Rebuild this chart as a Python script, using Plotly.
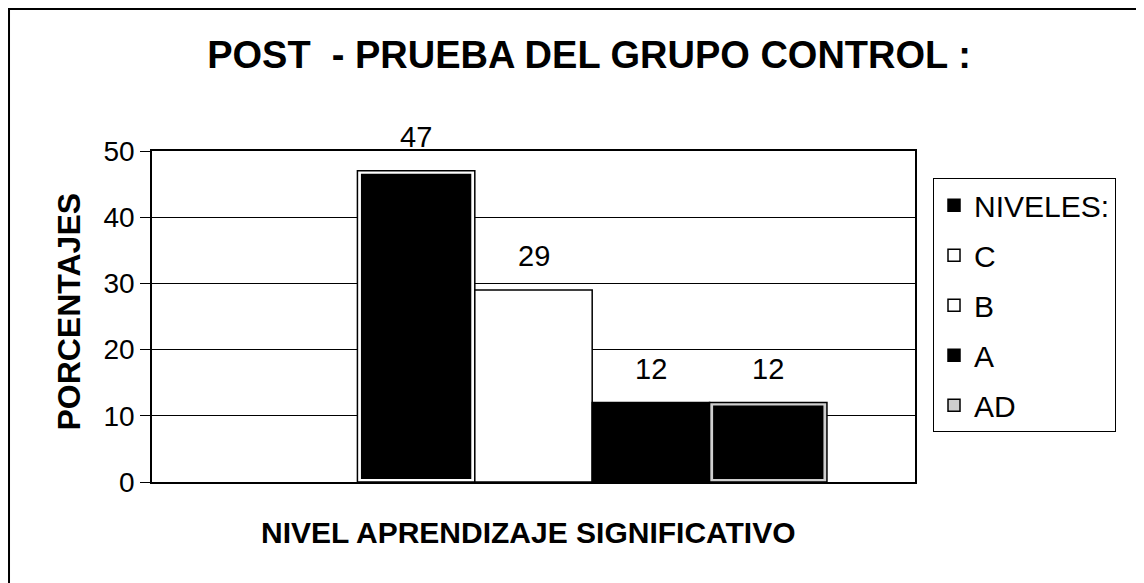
import plotly.graph_objects as go

# ---- data ----
series_names = ["NIVELES:", "C", "B", "A", "AD"]
values = [None, 47, 29, 12, 12]
label_text = ["", "47", "29", "12", "12"]
y_ticks = [0, 10, 20, 30, 40, 50]

title_text = "POST  - PRUEBA DEL GRUPO CONTROL :"
x_title = "NIVEL APRENDIZAJE SIGNIFICATIVO"
y_title = "PORCENTAJES"

FONT = "Liberation Sans, Arial, sans-serif"

# style per series: (outer fill, outer line, inner fill or None)
styles = {
    "NIVELES:": ("black", "black", None),
    "C": ("white", "black", "black"),
    "B": ("white", "black", None),
    "A": ("black", "black", None),
    "AD": ("#cfcfcf", "black", "black"),
}

fig = go.Figure()
xs = list(range(len(series_names)))
for i, (name, v) in enumerate(zip(series_names, values)):
    outer_fill, outer_line, inner_fill = styles[name]
    fig.add_trace(go.Bar(
        x=[xs[i]], y=[v], name=name, width=1.0,
        marker=dict(color=outer_fill, line=dict(color=outer_line, width=1.5)),
        legendgroup=name, showlegend=True, hoverinfo="skip",
    ))
    if inner_fill is not None and v is not None:
        pad = 0.45
        fig.add_trace(go.Bar(
            x=[xs[i]], y=[v - 2 * pad], base=[pad], width=0.94,
            marker=dict(color=inner_fill, line=dict(width=0)),
            legendgroup=name, showlegend=False, hoverinfo="skip",
        ))

for i, v in enumerate(values):
    if v is None:
        continue
    fig.add_annotation(x=xs[i], y=v, text=label_text[i], showarrow=False,
                       yanchor="middle", yshift=34,
                       font=dict(family=FONT, size=29, color="black"))

fig.add_annotation(x=0.494, y=-0.154, xref="paper", yref="paper", text=f"<b>{x_title}</b>",
                   showarrow=False, yanchor="middle", xanchor="center",
                   font=dict(family=FONT, size=30, color="black"))
fig.add_annotation(x=-0.110, y=0.515, xref="paper", yref="paper", text=f"<b>{y_title}</b>",
                   showarrow=False, textangle=-90, yanchor="middle", xanchor="center",
                   font=dict(family=FONT, size=32, color="black"))

# outer frame
fig.add_shape(type="rect", xref="paper", yref="paper",
              x0=-0.1874, x1=1.296, y0=-0.33, y1=1.429,
              line=dict(color="black", width=2), fillcolor="rgba(0,0,0,0)", layer="below")

fig.update_layout(
    width=1136, height=575,
    margin=dict(l=144, r=229, t=143, b=101),
    paper_bgcolor="white", plot_bgcolor="white",
    barmode="overlay",
    title=dict(text=f"<b>{title_text}</b>", x=581 / 1136, xanchor="center",
               y=1 - 47 / 575, yanchor="middle", xref="container", yref="container",
               font=dict(family=FONT, size=38, color="black")),
    font=dict(family=FONT, size=29, color="black"),
    showlegend=True,
    legend=dict(x=1.0236, y=0.918, xanchor="left", yanchor="top",
                bordercolor="black", borderwidth=1, bgcolor="white",
                font=dict(family=FONT, size=30, color="black"),
                tracegroupgap=8, traceorder="grouped",
                itemclick=False, itemdoubleclick=False),
)
fig.update_xaxes(range=[-1.25, 5.25], showticklabels=False, ticks="",
                 showgrid=False, zeroline=False, showline=True, linecolor="black",
                 linewidth=1.5, mirror=True, fixedrange=True)
fig.update_yaxes(range=[0, 50], tickvals=y_ticks, ticks="outside", ticklen=10,
                 tickcolor="black", showgrid=True, gridcolor="black", gridwidth=1,
                 zeroline=False, showline=True, linecolor="black", linewidth=1.5,
                 mirror=True, tickfont=dict(family=FONT, size=28, color="black"),
                 fixedrange=True)

fig.write_html("out.html", config={"displayModeBar": False})
